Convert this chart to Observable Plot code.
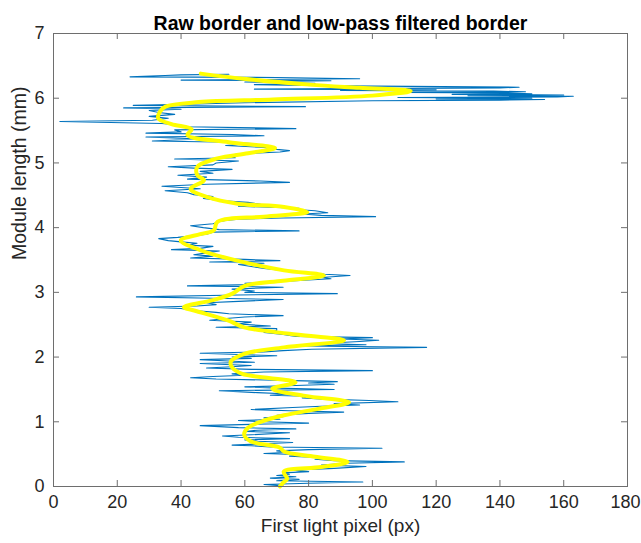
<!DOCTYPE html>
<html>
<head>
<meta charset="utf-8">
<script src="https://cdn.jsdelivr.net/npm/d3@7"></script>
<script src="https://cdn.jsdelivr.net/npm/@observablehq/plot@0.6"></script>
<style>
  html, body { margin: 0; padding: 0; background: #fff; }
  #chart svg { display: block; }
</style>
</head>
<body>
<div id="chart"></div>
<script>
// Raw detected border: module position (mm) and first light pixel (px)
const rawY = [
  0.00, 0.01, 0.03, 0.05, 0.07, 0.09, 0.11, 0.13, 0.15, 0.17, 0.19, 0.21, 0.23, 0.25, 0.28, 0.31, 0.33, 0.36, 0.38, 0.40,
  0.42, 0.44, 0.47, 0.49, 0.51, 0.53, 0.55, 0.57, 0.59, 0.61, 0.63, 0.64, 0.66, 0.68, 0.70, 0.72, 0.74, 0.76, 0.78, 0.80,
  0.83, 0.85, 0.87, 0.89, 0.91, 0.94, 0.96, 0.98, 1.00, 1.02, 1.04, 1.06, 1.08, 1.10, 1.13, 1.15, 1.17, 1.19, 1.22, 1.24,
  1.26, 1.28, 1.31, 1.33, 1.35, 1.37, 1.39, 1.41, 1.43, 1.45, 1.48, 1.50, 1.52, 1.54, 1.56, 1.58, 1.60, 1.62, 1.64, 1.66,
  1.68, 1.70, 1.72, 1.74, 1.77, 1.79, 1.81, 1.83, 1.85, 1.87, 1.90, 1.92, 1.94, 1.96, 1.98, 2.00, 2.02, 2.04, 2.06, 2.08,
  2.10, 2.12, 2.15, 2.17, 2.19, 2.21, 2.24, 2.26, 2.28, 2.30, 2.32, 2.35, 2.38, 2.41, 2.44, 2.46, 2.48, 2.51, 2.54, 2.57,
  2.60, 2.62, 2.64, 2.67, 2.69, 2.72, 2.75, 2.77, 2.79, 2.81, 2.84, 2.86, 2.89, 2.91, 2.93, 2.96, 2.98, 3.00, 3.02, 3.05,
  3.08, 3.10, 3.12, 3.14, 3.17, 3.19, 3.21, 3.23, 3.26, 3.28, 3.31, 3.34, 3.37, 3.40, 3.43, 3.45, 3.47, 3.49, 3.51, 3.53,
  3.56, 3.58, 3.61, 3.64, 3.66, 3.68, 3.71, 3.73, 3.76, 3.78, 3.80, 3.83, 3.85, 3.88, 3.90, 3.93, 3.95, 3.97, 4.00, 4.03,
  4.06, 4.09, 4.11, 4.13, 4.15, 4.17, 4.19, 4.21, 4.23, 4.26, 4.28, 4.30, 4.33, 4.36, 4.39, 4.42, 4.45, 4.48, 4.51, 4.54,
  4.57, 4.60, 4.62, 4.64, 4.67, 4.70, 4.72, 4.75, 4.78, 4.81, 4.84, 4.87, 4.90, 4.92, 4.94, 4.97, 5.00, 5.03, 5.06, 5.08,
  5.11, 5.14, 5.17, 5.19, 5.21, 5.24, 5.27, 5.30, 5.32, 5.34, 5.37, 5.40, 5.42, 5.44, 5.46, 5.48, 5.51, 5.53, 5.56, 5.59,
  5.61, 5.64, 5.66, 5.69, 5.72, 5.75, 5.78, 5.81, 5.83, 5.85, 5.87, 5.89, 5.91, 5.93, 5.96, 5.97, 5.98, 5.99, 6.00, 6.01,
  6.02, 6.03, 6.04, 6.05, 6.06, 6.07, 6.08, 6.09, 6.10, 6.11, 6.12, 6.13, 6.14, 6.16, 6.17, 6.19, 6.21, 6.23, 6.25, 6.27,
  6.28, 6.30, 6.32, 6.33, 6.35, 6.36, 6.37
];
const rawX = [
  70, 72, 66, 80, 97, 70, 77, 68, 76, 70, 74, 72, 80, 75, 88, 98, 84, 92, 110, 88,
  82, 86, 74, 78, 66, 74, 70, 80, 103, 68, 62, 56, 66, 75, 64, 60, 74, 58, 53, 62,
  74, 60, 64, 76, 58, 46, 62, 80, 66, 58, 71, 66, 72, 70, 80, 91, 74, 62, 75, 84,
  96, 88, 108, 99, 85, 78, 82, 68, 74, 64, 52, 88, 70, 60, 76, 88, 80, 89, 72, 51,
  43, 50, 60, 56, 66, 100, 62, 48, 56, 62, 46, 63, 55, 46, 62, 56, 70, 58, 46, 66,
  72, 81, 117, 79, 98, 84, 96, 102, 90, 100, 76, 72, 66, 70, 70, 51, 68, 58, 62, 49,
  55, 60, 72, 55, 51, 44, 40, 30, 45, 51, 48, 58, 72, 50, 26, 58, 89, 60, 63, 56,
  72, 42, 62, 60, 72, 80, 87, 84, 93, 85, 78, 72, 66, 62, 58, 66, 49, 71, 60, 43,
  50, 44, 48, 52, 37, 46, 50, 42, 45, 40, 36, 33, 39, 45, 48, 50, 77, 52, 47, 43,
  50, 52, 54, 58, 72, 101, 84, 78, 86, 82, 76, 77, 58, 65, 61, 52, 47, 50, 44, 42,
  35, 46, 40, 34, 48, 74, 65, 42, 48, 39, 50, 46, 56, 44, 36, 50, 51, 58, 38, 57,
  55, 58, 71, 74, 70, 66, 54, 62, 56, 31, 46, 29, 66, 56, 29, 40, 38, 76, 42, 38,
  34, 2, 31, 36, 30, 38, 33, 30, 40, 22, 79, 25, 45, 60, 100, 140, 154, 120, 150, 108,
  158, 163, 130, 160, 125, 150, 142, 110, 148, 138, 90, 120, 63, 140, 146, 90, 63, 82, 60, 87,
  40, 96, 70, 24, 35, 40, 55
];

// Low-pass filtered border
const smoothY = [
  0.00, 0.06, 0.12, 0.23, 0.30, 0.38, 0.46, 0.54, 0.60, 0.70, 0.80, 0.90, 1.00, 1.10, 1.20, 1.30, 1.40, 1.51, 1.61, 1.74,
  1.84, 1.93, 2.05, 2.15, 2.26, 2.36, 2.46, 2.57, 2.72, 2.77, 2.88, 2.98, 3.10, 3.18, 3.26, 3.34, 3.49, 3.65, 3.80, 3.90,
  3.96, 4.09, 4.17, 4.24, 4.32, 4.37, 4.47, 4.60, 4.73, 4.81, 4.94, 5.07, 5.15, 5.23, 5.32, 5.43, 5.52, 5.60, 5.69, 5.80,
  5.87, 5.94, 5.98, 6.04, 6.11, 6.16, 6.21, 6.30, 6.38
];
const smoothX = [
  71, 72, 73.3, 72.2, 84, 92.2, 82, 72.3, 71, 61.8, 59.8, 60.8, 65, 72.3, 83, 92.7, 79, 68.6, 75.9, 59.2,
  56, 55.6, 59.8, 72.3, 91.1, 74, 59.8, 54.5, 44.1, 40.9, 50, 56.1, 60, 72, 84.8, 72.3, 57.6, 46.2, 39.9, 46,
  50.3, 51.4, 66, 79.6, 72.3, 57.7, 48.3, 43, 47.2, 45.1, 45.1, 51.4, 61, 69.5, 55, 42, 43.3, 37, 32.8, 33.5,
  35.1, 45.5, 68.8, 100, 112, 96, 80.4, 59.5, 46.2
];

// Axis ticks
const xTicks = [0, 20, 40, 60, 80, 100, 120, 140, 160, 180];
const yTicks = [0, 1, 2, 3, 4, 5, 6, 7];
const innerX = xTicks.slice(1, -1);
const innerY = yTicks.slice(1, -1);

const raw = rawY.map((y, i) => ({y, x: rawX[i]}));
const smooth = smoothY.map((y, i) => ({y, x: smoothX[i]}));

const W = 641, H = 543;
const mL = 53, mR = 14, mT = 33, mB = 57;
const frameW = W - mL - mR, frameH = H - mT - mB;
const tickLen = 6;
const ink = "#262626";
const axisInk = "#6e6e6e";
const font = "'Liberation Sans', Arial, Helvetica, sans-serif";
const tickLabel = {anchor: "bottom", tickSize: 0, tickPadding: 9, fontSize: 18, fill: ink, label: null, tickFormat: d => String(d)};

const chart = Plot.plot({
  width: W,
  height: H,
  marginLeft: mL,
  marginRight: mR,
  marginTop: mT,
  marginBottom: mB,
  style: {fontFamily: font, color: ink, background: "#fff"},
  x: {domain: [0, 180]},
  y: {domain: [0, 7]},
  marks: [
    Plot.line(raw, {x: "x", y: "y", stroke: "#0072BD", strokeWidth: 1.1}),
    Plot.line(smooth, {x: "x", y: "y", stroke: "#FFFF00", strokeWidth: 4, curve: "catmull-rom"}),
    Plot.frame({stroke: axisInk}),
    // inward ticks on all four sides
    Plot.tickX(innerX, {x: d => d, insetTop: frameH - tickLen, stroke: axisInk}),
    Plot.tickX(innerX, {x: d => d, insetBottom: frameH - tickLen, stroke: axisInk}),
    Plot.tickY(innerY, {y: d => d, insetRight: frameW - tickLen, stroke: axisInk}),
    Plot.tickY(innerY, {y: d => d, insetLeft: frameW - tickLen, stroke: axisInk}),
    // tick labels; the last one is nudged in so it stays inside the page
    Plot.axisX(xTicks.slice(0, -1), tickLabel),
    Plot.axisX(xTicks.slice(-1), {...tickLabel, dx: -2}),
    Plot.axisY(yTicks, {anchor: "left", tickSize: 0, tickPadding: 9, fontSize: 18, fill: ink, label: null, tickFormat: d => String(d)}),
    Plot.text(["First light pixel (px)"], {frameAnchor: "bottom", dy: 45, fontSize: 19, fill: ink}),
    Plot.text(["Module length (mm)"], {frameAnchor: "left", dx: -34, rotate: -90, fontSize: 19.5, fill: ink}),
    Plot.text(["Raw border and low-pass filtered border"], {frameAnchor: "top", dy: -17.5, fontSize: 19.5, fontWeight: "bold", fill: "#000"})
  ]
});

document.getElementById("chart").append(chart);
</script>
</body>
</html>
